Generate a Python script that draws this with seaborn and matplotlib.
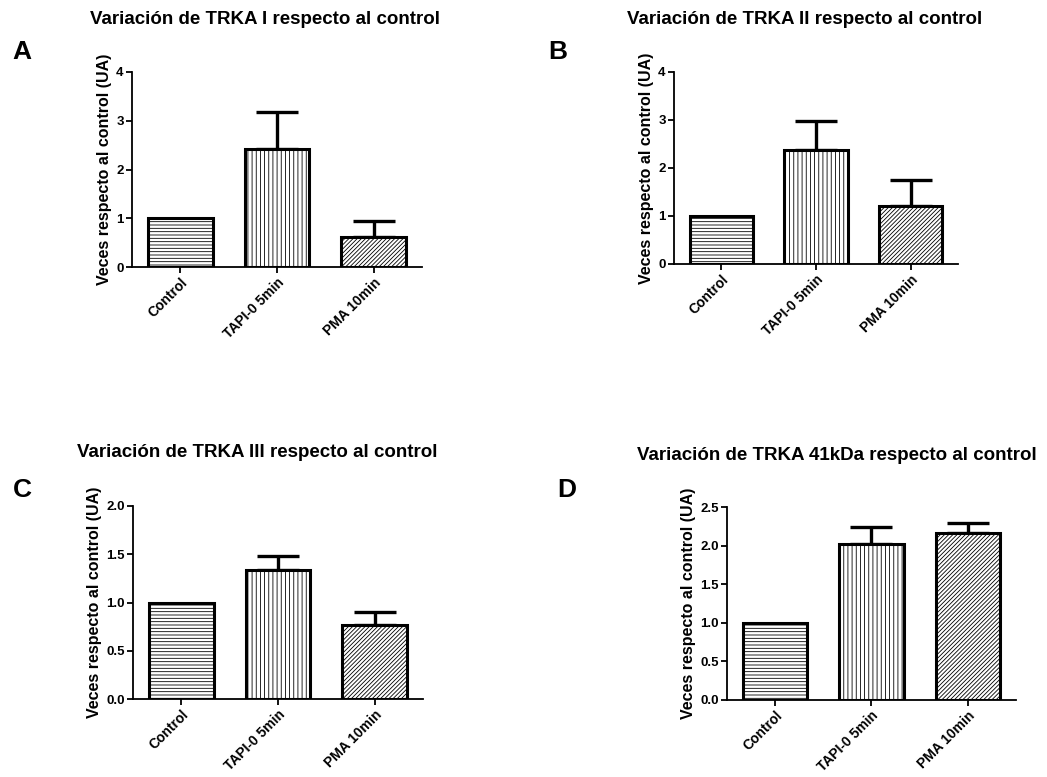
import numpy as np
import pandas as pd
import matplotlib
matplotlib.use("Agg")
import matplotlib.pyplot as plt
import seaborn as sns

# ============================
# datos
# ============================
CATEGORIES = ["Control", "TAPI-0 5min", "PMA 10min"]
HATCHES = ["-----", "||||", "////////"]

VALUES_A = [1.0, 2.43, 0.61]
ERR_A = [0.0, 0.75, 0.33]
VALUES_B = [1.0, 2.37, 1.20]
ERR_B = [0.0, 0.61, 0.55]
VALUES_C = [1.0, 1.335, 0.765]
ERR_C = [0.0, 0.145, 0.14]
VALUES_D = [1.0, 2.02, 2.16]
ERR_D = [0.0, 0.22, 0.13]

TITLES = [
    "Variación de TRKA I respecto al control",
    "Variación de TRKA II respecto al control",
    "Variación de TRKA III respecto al control",
    "Variación de TRKA 41kDa respecto al control",
]
YLABEL = "Veces respecto al control (UA)"

sns.set_style("ticks")
plt.rcParams["font.family"] = ["Liberation Sans", "DejaVu Sans"]
plt.rcParams["font.weight"] = "bold"
plt.rcParams["hatch.linewidth"] = 0.6
for key in ["text.color", "axes.labelcolor", "xtick.color", "ytick.color", "axes.edgecolor"]:
    plt.rcParams[key] = "black"

W, H = 1047, 777
fig = plt.figure(figsize=(W / 100, H / 100), dpi=100)


def px_axes(left, top, right, bottom):
    return fig.add_axes([left / W, 1 - bottom / H, (right - left) / W, (bottom - top) / H])


def plot_panel(ax, values, errs, ymax, ystep, fmt):
    df = pd.DataFrame({"cat": CATEGORIES, "val": values})
    sns.barplot(data=df, x="cat", y="val", ax=ax, color="white", edgecolor="black",
                linewidth=2.2, width=0.67, errorbar=None, saturation=1)
    for patch, h in zip(ax.patches, HATCHES):
        patch.set_hatch(h)
        patch.set_zorder(3)
    x = np.arange(len(values))[1:]
    v = np.array(values)[1:]
    e = np.array(errs)[1:]
    ax.errorbar(x, v, yerr=[np.zeros_like(e), e], fmt="none", ecolor="black",
                elinewidth=2.4, capsize=15, capthick=2.4, zorder=2)
    ax.set_xlim(-0.5, 2.5)
    ax.set_ylim(0, ymax)
    ticks = np.arange(0, ymax + 1e-9, ystep)
    ax.set_yticks(ticks)
    ax.set_yticklabels([fmt.format(t) for t in ticks], fontsize=9.5, fontweight="bold")
    ax.set_xticks(range(len(CATEGORIES)))
    ax.set_xticklabels(CATEGORIES, rotation=45, ha="right", rotation_mode="anchor",
                       fontsize=10, fontweight="bold")
    ax.set_xlabel("")
    ax.set_ylabel(YLABEL, fontsize=11.5, fontweight="bold", labelpad=3)
    sns.despine(ax=ax)
    for s in ["left", "bottom"]:
        ax.spines[s].set_linewidth(1.3)
        ax.spines[s].set_color("black")
    ax.tick_params(axis="both", direction="out", length=4, width=1.3, pad=2, colors="black")


axA = px_axes(132, 72, 422, 267)
axB = px_axes(674, 72, 958, 264)
axC = px_axes(133, 506, 423, 699)
axD = px_axes(727, 507, 1016, 700)

plot_panel(axA, VALUES_A, ERR_A, 4, 1, "{:.0f}")
plot_panel(axB, VALUES_B, ERR_B, 4, 1, "{:.0f}")
plot_panel(axC, VALUES_C, ERR_C, 2.0, 0.5, "{:.1f}")
plot_panel(axD, VALUES_D, ERR_D, 2.5, 0.5, "{:.1f}")

# titulos y letras
title_pos = [(265, 20), (805, 20), (257, 453), (837, 455)]
for t, (tx, ty) in zip(TITLES, title_pos):
    fig.text(tx / W, 1 - ty / H, t, ha="center", va="center", fontsize=13.5,
             fontweight="bold", color="black")

letter_pos = [("A", 22, 52), ("B", 558, 52), ("C", 22, 490), ("D", 567, 490)]
for l, lx, ly in letter_pos:
    fig.text(lx / W, 1 - ly / H, l, ha="center", va="center", fontsize=19,
             fontweight="bold", color="black")

fig.savefig("out.png", dpi=100)
